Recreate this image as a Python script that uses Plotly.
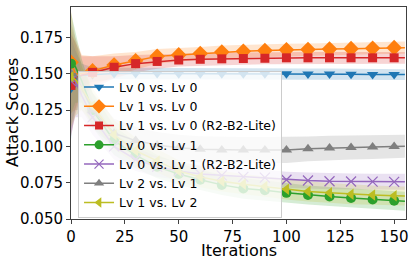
import plotly.graph_objects as go

# Iterations at which values were read (markers every 10)
ITER = [0, 2, 5, 10, 20, 30, 40, 50, 60, 70, 80, 90, 100, 110, 120, 130, 140, 150, 155]

NAMES = ["Lv 0 vs. Lv 0", "Lv 1 vs. Lv 0", "Lv 1 vs. Lv 0 (R2-B2-Lite)",
         "Lv 0 vs. Lv 1", "Lv 0 vs. Lv 1 (R2-B2-Lite)", "Lv 2 vs. Lv 1", "Lv 1 vs. Lv 2"]

lv0_lv0 = [0.140, 0.146, 0.149, 0.1495, 0.1502, 0.1502, 0.1502, 0.1501, 0.1501, 0.1500, 0.1500,
           0.1500, 0.1500, 0.1499, 0.1498, 0.1497, 0.1496, 0.1495, 0.1495]
lv1_lv0 = [0.158, 0.150, 0.150, 0.152, 0.156, 0.159, 0.162, 0.163, 0.164, 0.165, 0.1655,
           0.166, 0.1665, 0.1667, 0.167, 0.1673, 0.1676, 0.168, 0.168]
lv1_lv0_lite = [0.142, 0.147, 0.149, 0.151, 0.1545, 0.157, 0.1585, 0.1595, 0.160, 0.1603, 0.1605,
                0.1607, 0.161, 0.161, 0.161, 0.161, 0.161, 0.161, 0.161]
lv0_lv1 = [0.157, 0.155, 0.145, 0.125, 0.104, 0.094, 0.086, 0.081, 0.077, 0.0735, 0.071,
           0.0698, 0.068, 0.0665, 0.0655, 0.0645, 0.0635, 0.0626, 0.0622]
lv0_lv1_lite = [0.145, 0.145, 0.135, 0.120, 0.100, 0.091, 0.086, 0.083, 0.081, 0.080, 0.079,
                0.0785, 0.077, 0.0765, 0.0760, 0.0758, 0.0757, 0.0756, 0.0756]
lv2_lv1 = [0.150, 0.150, 0.140, 0.125, 0.109, 0.104, 0.101, 0.099, 0.098, 0.0975, 0.0975,
           0.0975, 0.0976, 0.0983, 0.0989, 0.0993, 0.0996, 0.1000, 0.1001]
lv1_lv2 = [0.148, 0.146, 0.140, 0.128, 0.108, 0.097, 0.090, 0.083, 0.079, 0.076, 0.074,
           0.0723, 0.0705, 0.069, 0.068, 0.067, 0.0665, 0.066, 0.0658]

std_lv0_lv0 = [0.035, 0.02, 0.008, 0.005, 0.004, 0.004, 0.004, 0.004, 0.004, 0.004, 0.004,
               0.004, 0.004, 0.0038, 0.0038, 0.0038, 0.0037, 0.0037, 0.0037]
std_lv1_lv0 = [0.035, 0.025, 0.013, 0.010, 0.008, 0.006, 0.005, 0.0045, 0.0045, 0.0045, 0.0045,
               0.0045, 0.0042, 0.0042, 0.0042, 0.0042, 0.0042, 0.0042, 0.0042]
std_lv1_lv0_lite = [0.035, 0.025, 0.013, 0.011, 0.0075, 0.006, 0.005, 0.0045, 0.0045, 0.0043,
                    0.0042, 0.0042, 0.0042, 0.004, 0.004, 0.004, 0.004, 0.004, 0.004]
std_lv0_lv1 = [0.035, 0.025, 0.015, 0.012, 0.010, 0.009, 0.008, 0.0075, 0.007, 0.007, 0.007,
               0.0068, 0.0066, 0.0066, 0.0065, 0.0065, 0.0065, 0.0065, 0.0065]
std_lv0_lv1_lite = [0.035, 0.025, 0.015, 0.012, 0.009, 0.008, 0.007, 0.006, 0.006, 0.0055,
                    0.0055, 0.0055, 0.0055, 0.0055, 0.0055, 0.0055, 0.0055, 0.0055, 0.0055]
std_lv2_lv1 = [0.035, 0.025, 0.015, 0.012, 0.010, 0.0095, 0.009, 0.009, 0.009, 0.009, 0.009,
               0.009, 0.009, 0.0085, 0.0085, 0.0083, 0.0082, 0.008, 0.008]
std_lv1_lv2 = [0.035, 0.025, 0.015, 0.012, 0.010, 0.009, 0.008, 0.0075, 0.0072, 0.007, 0.007,
               0.007, 0.007, 0.007, 0.0068, 0.0068, 0.0066, 0.0065, 0.0065]

SERIES = [lv0_lv0, lv1_lv0, lv1_lv0_lite, lv0_lv1, lv0_lv1_lite, lv2_lv1, lv1_lv2]
STDS = [std_lv0_lv0, std_lv1_lv0, std_lv1_lv0_lite, std_lv0_lv1, std_lv0_lv1_lite, std_lv2_lv1, std_lv1_lv2]
COLORS = ["#1f77b4", "#ff7f0e", "#d62728", "#2ca02c", "#9467bd", "#7f7f7f", "#bcbd22"]
SYMBOLS = ["triangle-down", "diamond", "square", "circle", "x-thin", "triangle-up", "triangle-left"]
SIZES = [10, 12, 9, 10, 10, 10, 10]
LEG_SIZES = [9, 11, 8, 9, 9, 9, 9]


def rgba(h, a):
    h = h.lstrip("#")
    r, g, b = int(h[0:2], 16), int(h[2:4], 16), int(h[4:6], 16)
    return f"rgba({r},{g},{b},{a})"


fig = go.Figure()

# shaded bands
for vals, sd, col in zip(SERIES, STDS, COLORS):
    up = [v + s for v, s in zip(vals, sd)]
    lo = [v - s for v, s in zip(vals, sd)]
    fig.add_trace(go.Scatter(x=ITER + ITER[::-1], y=up + lo[::-1], fill="toself",
                             fillcolor=rgba(col, 0.2), line=dict(width=0),
                             hoverinfo="skip", showlegend=False, mode="lines"))

# lines and markers
for name, vals, col, sym, sz, lsz in zip(NAMES, SERIES, COLORS, SYMBOLS, SIZES, LEG_SIZES):
    fig.add_trace(go.Scatter(x=ITER, y=vals, mode="lines", line=dict(color=col, width=1.5),
                             showlegend=False))
    mx = [x for x in ITER if x % 10 == 0]
    my = [v for x, v in zip(ITER, vals) if x % 10 == 0]
    mk = dict(symbol=sym, size=sz, color=col, line=dict(width=0))
    lmk = dict(symbol=sym, size=lsz, color=col, line=dict(width=0))
    if sym == "x-thin":
        mk["line"] = dict(width=1.2, color=col)
        lmk["line"] = dict(width=1.2, color=col)
    fig.add_trace(go.Scatter(x=mx, y=my, mode="markers", marker=mk, showlegend=False))
    # legend entry
    fig.add_trace(go.Scatter(x=[None], y=[None], mode="lines+markers", name=name,
                             line=dict(color=col, width=1.5), marker=lmk))

axis_common = dict(showline=True, mirror=True, linecolor="#404040", linewidth=1,
                   ticks="outside", ticklen=4, tickcolor="#404040", showgrid=False,
                   zeroline=False, automargin=False,
                   tickfont=dict(size=15, color="black"))

fig.update_layout(
    width=415, height=262,
    margin=dict(l=71, r=9, t=7, b=43),
    paper_bgcolor="white", plot_bgcolor="white",
    font=dict(family="DejaVu Sans", color="black"),
    xaxis=dict(range=[0, 155.5], tickvals=[0, 25, 50, 75, 100, 125, 150], **axis_common),
    yaxis=dict(range=[0.05, 0.196], tickvals=[0.05, 0.075, 0.1, 0.125, 0.15, 0.175],
               ticktext=["0.050", "0.075", "0.100", "0.125", "0.150", "0.175"], **axis_common),
    legend=dict(x=0.021, y=0.696, xanchor="left", yanchor="top",
                bgcolor="rgba(255,255,255,0.8)", bordercolor="#cccccc", borderwidth=1,
                font=dict(size=12.5, color="black"), tracegroupgap=0),
    showlegend=True,
    annotations=[
        dict(text="Iterations", xref="paper", yref="paper", x=0.5, y=0, xanchor="center",
             yanchor="middle", yshift=-31, showarrow=False, font=dict(size=16)),
        dict(text="Attack Scores", xref="paper", yref="paper", x=0, y=0.5, xanchor="center",
             yanchor="middle", xshift=-59, textangle=-90, showarrow=False, font=dict(size=16)),
    ],
)

fig.write_html("out.html", config={"displayModeBar": False},
               post_script="document.body.style.margin='0';document.body.style.padding='0';")
